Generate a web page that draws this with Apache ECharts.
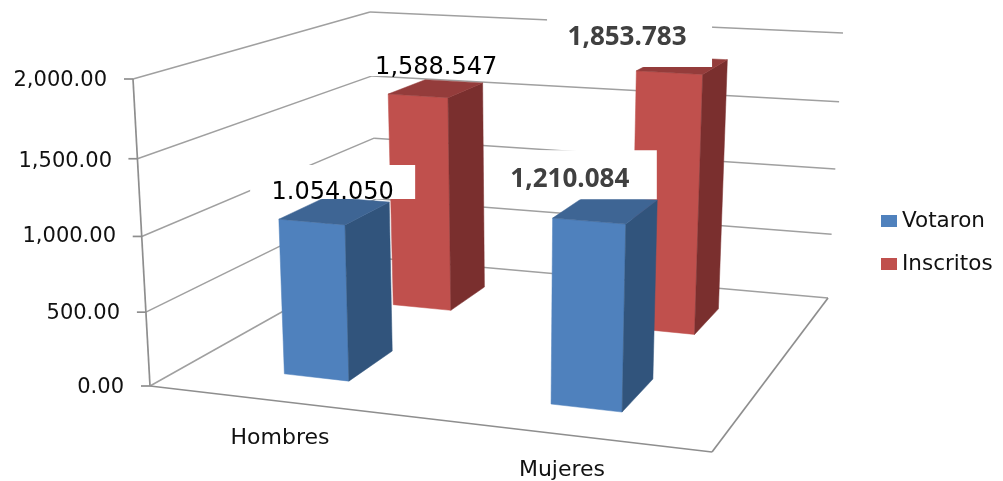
<!DOCTYPE html>
<html><head><meta charset="utf-8">
<script src="https://cdn.jsdelivr.net/npm/echarts@6/dist/echarts.min.js"></script>
<style>html,body{margin:0;padding:0;background:#fff}#c{width:1003px;height:481px}</style>
</head><body><div id="c"></div>
<script>
const categories = ['Hombres', 'Mujeres'];
const votaron = [1054.05, 1210.084];
const inscritos = [1588.547, 1853.783];
const votaronLabels = ['1.054.050', '1,210.084'];
const inscritosLabels = ['1,588.547', '1,853.783'];
const tickValues = [0, 500, 1000, 1500, 2000];
const tickLabels = ['0.00', '500.00', '1,000.00', '1,500.00', '2,000.00'];

// Perspective layout (not data): wall and floor corners, depth slots
const FL = [[150,386],[712,452],[828,298],[378,258]];
const TP = [[133,79],[723,117],[843,33],[370,12]];
const spanU = [[.173,.292],[.665,.796]];
const spanVotaron = [.178,.40], spanInscritos = [.70,.872];
const AXMAX = 2000;

const bil = (Q,u,v)=>{
  const a=[Q[0][0]+u*(Q[1][0]-Q[0][0]), Q[0][1]+u*(Q[1][1]-Q[0][1])];
  const b=[Q[3][0]+u*(Q[2][0]-Q[3][0]), Q[3][1]+u*(Q[2][1]-Q[3][1])];
  return [a[0]+v*(b[0]-a[0]), a[1]+v*(b[1]-a[1])];
};
const warp = t=>.95*t/(1-.05*t);
const proj = (u,v,t)=>{
  const f=bil(FL,u,v), p=bil(TP,u,v), w=warp(t);
  return [f[0]+(p[0]-f[0])*w, f[1]+(p[1]-f[1])*w];
};
const frac = (api,val)=>{
  const y0=api.coord([0,0])[1], y1=api.coord([0,AXMAX])[1];
  return (y0-api.coord([0,val])[1])/(y0-y1);
};
const GRAY='#a0a0a0', AXC='#8e8e8e';
const line=(a,b,c,w)=>({type:'line',shape:{x1:a[0],y1:a[1],x2:b[0],y2:b[1]},style:{stroke:c,lineWidth:w},silent:true});

function renderFrame(params,api){
  const ch=[];
  tickValues.forEach(v=>{
    const t=frac(api,v);
    const a=proj(0,0,t), b=proj(0,1,t), c=proj(1,1,t);
    if(v>0){ ch.push(line(a,b,GRAY,1.5)); ch.push(line(b,c,GRAY,1.5)); }
    ch.push(line([a[0]-9,a[1]],a,AXC,1.7));
  });
  ch.push(line(proj(0,0,0),proj(0,0,1),AXC,1.7));
  ch.push(line(FL[0],FL[3],GRAY,1.5));
  ch.push(line(FL[3],FL[2],GRAY,1.5));
  ch.push(line(FL[0],FL[1],AXC,1.7));
  ch.push(line(FL[1],FL[2],AXC,1.7));
  return {type:'group',children:ch};
}
const poly=(pts,c)=>({type:'polygon',shape:{points:pts},style:{fill:c,stroke:c,lineWidth:.5}});

function barRenderer(spanV,cols,labels,layouts){
  return (params,api)=>{
    const i=api.value(0), val=api.value(1), t=frac(api,val);
    const [u0,u1]=spanU[i], [v0,v1]=spanV;
    const fb0=proj(u0,v0,0), fb1=proj(u1,v0,0), bb1=proj(u1,v1,0);
    const ft0=proj(u0,v0,t), ft1=proj(u1,v0,t), bt1=proj(u1,v1,t), bt0=proj(u0,v1,t);
    const L=layouts[i];
    return {type:'group',children:[
      poly([fb0,fb1,ft1,ft0],cols[0]),
      poly([fb1,bb1,bt1,ft1],cols[1]),
      poly([ft0,ft1,bt1,bt0],cols[2]),
      {type:'rect',shape:{x:ft0[0]+L.box[0],y:ft0[1]+L.box[1],width:L.box[2],height:L.box[3]},style:{fill:'#fff'}},
      {type:'text',style:{text:labels[i],x:ft0[0]+L.txt[0],y:ft0[1]+L.txt[1],align:'center',verticalAlign:'middle',
        fill:L.color,font:L.font}}
    ]};
  };
}
const REG='24px "DejaVu Sans"', BOLD='bold 26px "Open Sans"';
const layV=[{box:[-28.7,-54.3,165,34],txt:[53.8,-26.3],font:REG,color:'#000'},
            {box:[-61.8,-67.8,166,49],txt:[17.2,-38.8],font:BOLD,color:'#404040'}];
const layI=[{box:[-34,-54.1,165,36],txt:[48,-26.6],font:REG,color:'#000'},
            {box:[-89.3,-55.9,165,52],txt:[-9.3,-32.9],font:BOLD,color:'#404040'}];

const padR=[0,4,8,12,17], padT=[6,10,10,12,4];
const yRich={}; tickValues.forEach((v,k)=>{yRich['t'+k]={padding:[padT[k],padR[k],0,0],fontFamily:'DejaVu Sans',fontSize:21,color:'#111'};});
const xPad=[[34,0,0,0],[66,0,0,0]];

const chart=echarts.init(document.getElementById('c'),null,{renderer:'canvas'});
chart.setOption({
  animation:false,backgroundColor:'#fff',
  grid:{left:139,width:564,top:79,bottom:95},
  legend:{data:['Votaron','Inscritos'],orient:'vertical',left:881,top:210,padding:0,icon:'rect',itemWidth:16,itemHeight:12,itemGap:21,
    selectedMode:false,textStyle:{fontFamily:'DejaVu Sans',fontSize:21.5,color:'#111',padding:[0,0,0,0]}},
  xAxis:{type:'category',data:categories,axisLine:{show:false},axisTick:{show:false},
    axisLabel:{interval:0,margin:8,formatter:(v)=>'{c'+categories.indexOf(v)+'|'+v+'}',
      rich:{c0:{padding:xPad[0],fontFamily:'DejaVu Sans',fontSize:22,color:'#111'},c1:{padding:xPad[1],fontFamily:'DejaVu Sans',fontSize:22,color:'#111'}}},
    splitLine:{show:false}},
  yAxis:{type:'value',min:0,max:AXMAX,interval:500,axisLine:{show:false},axisTick:{show:false},splitLine:{show:false},
    axisLabel:{margin:15,formatter:(v)=>{const k=tickValues.indexOf(v);return '{t'+k+'|'+tickLabels[k]+'}';},rich:yRich}},
  series:[
    {type:'custom',name:'frame',silent:true,z:1,data:[[0,0]],renderItem:renderFrame},
    {type:'custom',name:'Votaron',z:3,itemStyle:{color:'#4F81BD'},silent:true,
      data:votaron.map((v,i)=>[i,v]),
      renderItem:barRenderer(spanVotaron,['#4F81BD','#31547C','#3E6594'],votaronLabels,layV)},
    {type:'custom',name:'Inscritos',z:2,itemStyle:{color:'#C0504D'},silent:true,
      data:inscritos.map((v,i)=>[i,v]),
      renderItem:barRenderer(spanInscritos,['#C0504D','#7A2F2E','#943C3B'],inscritosLabels,layI)}
  ]
});
</script></body></html>
